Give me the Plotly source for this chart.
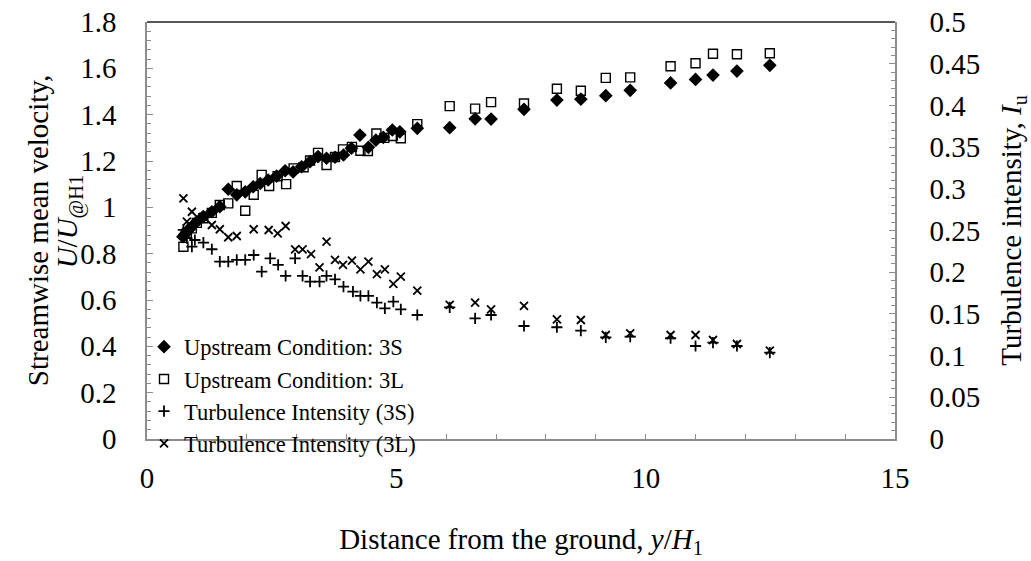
import plotly.graph_objects as go

# ---- data ----
x_3s = [0.72, 0.76, 0.80, 0.85, 0.90, 1.00, 1.13, 1.30, 1.46, 1.63, 1.80, 1.97, 2.13, 2.27, 2.43, 2.60,
        2.77, 2.93, 3.10, 3.27, 3.43, 3.60, 3.77, 3.94, 4.10, 4.27, 4.44, 4.59, 4.74, 4.92, 5.07,
        5.42, 6.07, 6.58, 6.90, 7.56, 8.22, 8.70, 9.20, 9.69, 10.50, 11.00, 11.35, 11.83, 12.49]
u_3s = [0.873, 0.884, 0.895, 0.906, 0.917, 0.938, 0.960, 0.981, 1.003, 1.078, 1.054, 1.067, 1.089, 1.103,
        1.118, 1.135, 1.158, 1.153, 1.175, 1.197, 1.219, 1.212, 1.216, 1.226, 1.255, 1.312, 1.259,
        1.290, 1.302, 1.334, 1.326, 1.341, 1.344, 1.382, 1.381, 1.423, 1.463, 1.467, 1.482, 1.505,
        1.537, 1.552, 1.571, 1.588, 1.613]

x_3l = [0.73, 0.80, 0.90, 1.00, 1.13, 1.30, 1.46, 1.63, 1.80, 1.97, 2.14, 2.30, 2.45, 2.62, 2.79, 2.94,
        3.14, 3.27, 3.43, 3.60, 3.77, 3.93, 4.11, 4.28, 4.43, 4.60, 4.76, 4.93, 5.09,
        5.42, 6.07, 6.58, 6.90, 7.56, 8.22, 8.70, 9.20, 9.69, 10.50, 11.00, 11.35, 11.83, 12.49]
u_3l = [0.830, 0.889, 0.909, 0.933, 0.953, 0.976, 1.010, 1.017, 1.092, 0.985, 1.054, 1.140, 1.092, 1.134,
        1.100, 1.168, 1.173, 1.202, 1.235, 1.183, 1.217, 1.250, 1.261, 1.244, 1.243, 1.319, 1.300,
        1.308, 1.298, 1.359, 1.437, 1.426, 1.454, 1.448, 1.512, 1.503, 1.559, 1.561, 1.609, 1.622,
        1.663, 1.661, 1.665]

x_ti3s = [0.73, 0.80, 0.90, 0.96, 1.13, 1.30, 1.46, 1.63, 1.80, 1.97, 2.14, 2.30, 2.47, 2.63, 2.78,
          2.97, 3.12, 3.27, 3.46, 3.60, 3.77, 3.94, 4.13, 4.28, 4.44, 4.61, 4.77, 4.94, 5.09,
          5.42, 6.07, 6.58, 6.90, 7.56, 8.22, 8.70, 9.20, 9.69, 10.50, 11.00, 11.35, 11.83, 12.49]
ti_3s = [0.2507, 0.2409, 0.2306, 0.2386, 0.2354, 0.2275, 0.2126, 0.2126, 0.2147, 0.2147, 0.2206, 0.2006,
         0.2166, 0.2087, 0.1955, 0.2166, 0.1955, 0.1886, 0.1886, 0.1955, 0.1914, 0.1826, 0.1767,
         0.1715, 0.1715, 0.1634, 0.1567, 0.1646, 0.1555, 0.1487, 0.1579, 0.1447, 0.1487, 0.1355,
         0.1340, 0.1299, 0.1219, 0.1227, 0.1208, 0.1115, 0.1155, 0.1115, 0.1035]

x_ti3l = [0.73, 0.80, 0.90, 1.13, 1.30, 1.46, 1.63, 1.80, 2.14, 2.44, 2.62, 2.78, 2.97, 3.12, 3.29,
          3.46, 3.60, 3.77, 3.93, 4.11, 4.28, 4.44, 4.61, 4.77, 4.94, 5.09,
          5.42, 6.07, 6.58, 6.90, 7.56, 8.22, 8.70, 9.20, 9.69, 10.50, 11.00, 11.35, 11.83, 12.49]
ti_3l = [0.2886, 0.2606, 0.2725, 0.2665, 0.2566, 0.2515, 0.2419, 0.2434, 0.2515, 0.2506, 0.2466,
         0.2554, 0.2275, 0.2275, 0.2218, 0.2058, 0.2366, 0.2147, 0.2087, 0.2138, 0.2035, 0.2126,
         0.1978, 0.2035, 0.1859, 0.1947, 0.1778, 0.1607, 0.1634, 0.1555, 0.1595, 0.1435, 0.1427,
         0.1247, 0.1267, 0.1247, 0.1247, 0.1187, 0.1139, 0.1059]

names = ["Upstream Condition: 3S", "Upstream Condition: 3L",
         "Turbulence Intensity (3S)", "Turbulence Intensity (3L)"]

FONT = "Liberation Serif, Times New Roman, serif"
AXC = "#8c8c8c"
FS = 29

fig = go.Figure()
fig.add_trace(go.Scatter(x=x_3s, y=u_3s, mode="markers", name=names[0],
                         marker=dict(symbol="diamond", size=10.5, color="black", line=dict(width=0))))
fig.add_trace(go.Scatter(x=x_3l, y=u_3l, mode="markers", name=names[1],
                         marker=dict(symbol="square-open", size=9, color="black", line=dict(width=1.4))))
fig.add_trace(go.Scatter(x=x_ti3s, y=ti_3s, mode="markers", name=names[2], yaxis="y2",
                         marker=dict(symbol="cross-thin-open", size=8, color="black",
                                     line=dict(width=1.8, color="black"))))
fig.add_trace(go.Scatter(x=x_ti3l, y=ti_3l, mode="markers", name=names[3], yaxis="y2",
                         marker=dict(symbol="x-thin-open", size=8, color="black",
                                     line=dict(width=1.8, color="black"))))

fig.update_layout(
    width=1031, height=561,
    margin=dict(l=147, r=136, t=22, b=122, autoexpand=False),
    paper_bgcolor="white", plot_bgcolor="white",
    font=dict(family=FONT, size=FS, color="black"),
    showlegend=True,
    legend=dict(x=-0.004, y=0.272, xanchor="left", yanchor="top", bgcolor="rgba(0,0,0,0)",
                font=dict(size=22.5, family=FONT), itemwidth=30, tracegroupgap=0),
    xaxis=dict(range=[0, 15], dtick=5, tick0=0, showgrid=False, zeroline=False, automargin=False,
               showline=True, linecolor=AXC, linewidth=1.5,
               ticks="inside", ticklen=5, tickcolor=AXC, tickwidth=1,
               minor=dict(dtick=1, ticks="inside", ticklen=5, tickcolor=AXC, showgrid=False),
               ticklabelstandoff=12, tickfont=dict(size=FS),
               title=dict(text="Distance from the ground, <i>y</i>/<i>H</i><sub>1</sub>",
                          font=dict(size=FS), standoff=36)),
    yaxis=dict(range=[0, 1.8], dtick=0.2, tick0=0, showgrid=False, zeroline=False, automargin=False,
               showline=True, linecolor=AXC, linewidth=1.5,
               ticks="inside", ticklen=6, tickcolor=AXC, tickwidth=1,
               minor=dict(dtick=0.04, ticks="inside", ticklen=4, tickcolor=AXC, showgrid=False),
               ticklabelstandoff=23, tickfont=dict(size=FS),
               title=dict(text="Streamwise mean velocity,", font=dict(size=FS), standoff=23)),
    yaxis2=dict(range=[0, 0.5], dtick=0.05, tick0=0, overlaying="y", side="right", automargin=False,
                showgrid=False, zeroline=False,
                showline=True, linecolor=AXC, linewidth=1.5,
                ticks="inside", ticklen=6, tickcolor=AXC, tickwidth=1,
                minor=dict(dtick=0.01, ticks="inside", ticklen=4, tickcolor=AXC, showgrid=False),
                ticklabelstandoff=27, tickfont=dict(size=FS),
                title=dict(text="Turbulence intensity, <i>I</i><sub>u</sub>",
                           font=dict(size=FS), standoff=37)),
    annotations=[dict(text="<i>U</i>/<i>U</i><sub>@H1</sub>", xref="paper", yref="paper",
                      x=-0.104, y=0.52, xanchor="center", yanchor="middle", textangle=-90,
                      showarrow=False, font=dict(size=FS, family=FONT))],
    shapes=[dict(type="line", xref="paper", yref="paper", x0=0, x1=1, y0=1, y1=1,
                 line=dict(color="#222222", width=1.5))],
)

fig.write_html("out.html")
